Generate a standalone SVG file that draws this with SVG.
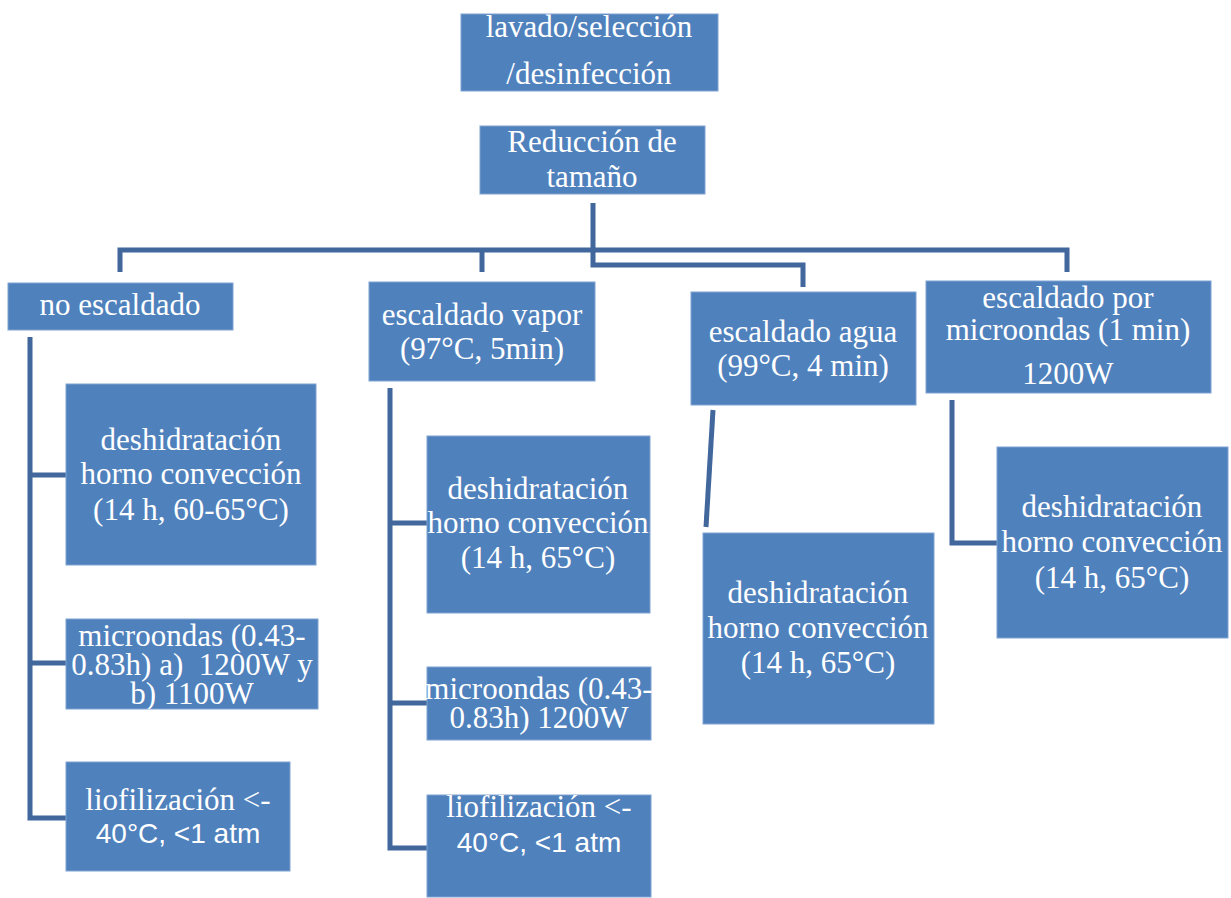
<svg xmlns="http://www.w3.org/2000/svg" width="1231" height="898" viewBox="0 0 1231 898">
<style>
.box{fill:#4F81BD;stroke:#7FA3D1;stroke-width:1}
.t{font-family:"Liberation Serif","Times New Roman",serif;font-size:31px;fill:#fff;text-anchor:middle}
.s{font-family:"Liberation Sans",Arial,sans-serif;font-size:28px;fill:#fff;text-anchor:middle}
.c{fill:none;stroke:#41679C;stroke-width:5;stroke-linejoin:miter}
</style>
<defs>
<clipPath id="clipM1"><rect x="66" y="619" width="252" height="90"/></clipPath>
<clipPath id="clipL2"><rect x="427" y="795" width="224" height="102"/></clipPath>
</defs>
<rect width="1231" height="898" fill="#fff"/>
<g id="connectors">
<path class="c" d="M593 203V265H803V287"/>
<path class="c" d="M120 272V250H1067V272"/>
<path class="c" d="M482 250V272"/>
<path class="c" d="M30 337V818H67M30 475H67M30 663H67"/>
<path class="c" d="M390 388V848H427M390 523H427M390 703H427"/>
<path class="c" d="M713 410L706 527"/>
<path class="c" d="M952 400V543H998"/>
</g>
<g id="n-lavado"><rect class="box" x="461" y="14" width="257" height="77"/>
<text class="t" x="589" y="37">lavado/selección</text><text class="t" x="589" y="84">/desinfección</text></g>
<g id="n-reduccion"><rect class="box" x="480" y="126" width="225" height="68"/>
<text class="t" x="592" y="152">Reducción de</text><text class="t" x="592" y="187">tamaño</text></g>
<g id="n-noesc"><rect class="box" x="8" y="283" width="225" height="47"/>
<text class="t" x="120" y="315">no escaldado</text></g>
<g id="n-vapor"><rect class="box" x="369" y="282" width="226" height="99"/>
<text class="t" x="482" y="325">escaldado vapor</text><text class="t" x="482" y="359">(97°C, 5min)</text></g>
<g id="n-agua"><rect class="box" x="691" y="292" width="225" height="113"/>
<text class="t" x="803" y="342">escaldado agua</text><text class="t" x="803" y="376">(99°C, 4 min)</text></g>
<g id="n-micro"><rect class="box" x="926" y="281" width="285" height="112"/>
<text class="t" x="1068" y="308">escaldado por</text><text class="t" x="1068" y="340">microondas (1 min)</text><text class="t" x="1068" y="384">1200W</text></g>
<g id="n-deshid1"><rect class="box" x="66" y="384" width="250" height="181"/>
<text class="t" x="191" y="450">deshidratación</text><text class="t" x="191" y="484">horno convección</text><text class="t" x="191" y="520">(14 h, 60-65°C)</text></g>
<g id="n-micro1"><rect class="box" x="66" y="619" width="252" height="90"/>
<g clip-path="url(#clipM1)"><text class="t" x="192" y="646">microondas (0.43-</text><text class="t" x="192" y="675" xml:space="preserve">0.83h) a)  1200W y</text><text class="t" x="192" y="704">b) 1100W</text></g></g>
<g id="n-liof1"><rect class="box" x="66" y="762" width="224" height="109"/>
<text class="t" x="178" y="810">liofilización &lt;-</text><text class="s" x="178" y="843">40°C, &lt;1 atm</text></g>
<g id="n-deshid2"><rect class="box" x="427" y="436" width="223" height="177"/>
<text class="t" x="538" y="499">deshidratación</text><text class="t" x="538" y="533">horno convección</text><text class="t" x="538" y="568">(14 h, 65°C)</text></g>
<g id="n-micro2"><rect class="box" x="427" y="667" width="224" height="73"/>
<text class="t" x="539" y="699">microondas (0.43-</text><text class="t" x="539" y="728">0.83h) 1200W</text></g>
<g id="n-liof2"><rect class="box" x="427" y="795" width="224" height="102"/>
<g clip-path="url(#clipL2)"><text class="t" x="539" y="817">liofilización &lt;-</text><text class="s" x="539" y="852">40°C, &lt;1 atm</text></g></g>
<g id="n-deshid3"><rect class="box" x="703" y="533" width="231" height="191"/>
<text class="t" x="818" y="603">deshidratación</text><text class="t" x="818" y="638">horno convección</text><text class="t" x="818" y="673">(14 h, 65°C)</text></g>
<g id="n-deshid4"><rect class="box" x="997" y="447" width="231" height="191"/>
<text class="t" x="1112" y="517">deshidratación</text><text class="t" x="1112" y="552">horno convección</text><text class="t" x="1112" y="588">(14 h, 65°C)</text></g>
</svg>
